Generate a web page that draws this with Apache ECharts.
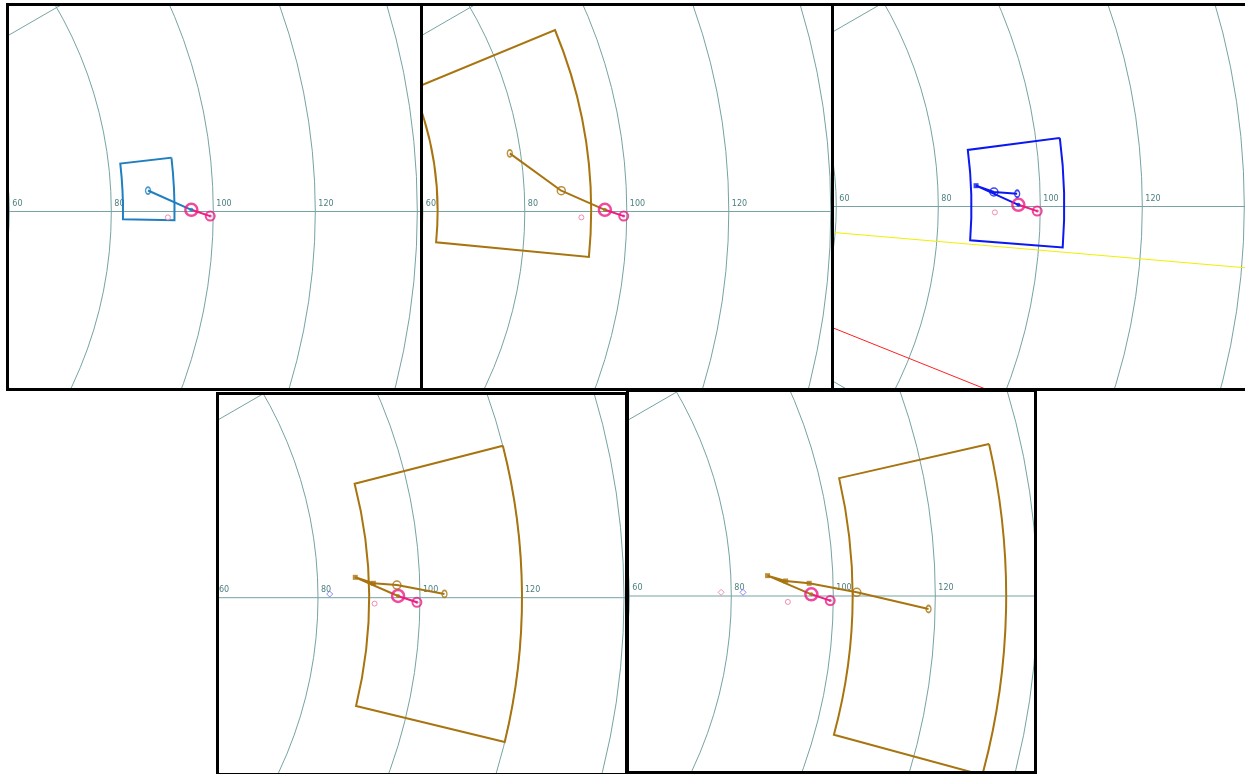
<!DOCTYPE html>
<html>
<head>
<meta charset="utf-8">
<script src="https://cdn.jsdelivr.net/npm/echarts@6/dist/echarts.min.js"></script>
<style>
  html, body { margin: 0; padding: 0; background: #fff; width: 1245px; height: 774px; overflow: hidden; position: relative; }
  .panel { position: absolute; box-sizing: border-box; border: 3px solid #000; background: #fff; overflow: hidden; }
  .panel > div { width: 100%; height: 100%; }
</style>
</head>
<body>
<div class="panel" style="left:6px;top:3px;width:417px;height:388px"><div id="c1"></div></div>
<div class="panel" style="left:420px;top:3px;width:414px;height:388px"><div id="c2"></div></div>
<div class="panel" style="left:831px;top:3px;width:420px;height:388px"><div id="c3"></div></div>
<div class="panel" style="left:216px;top:392px;width:412px;height:384px"><div id="c4"></div></div>
<div class="panel" style="left:626px;top:389px;width:411px;height:385px"><div id="c5"></div></div>
<script>
// All points are [radius, angle in degrees]
// Common reference points shown in every panel
const refStart = [95.7, 0.2];
const refEnd = [99.4, -0.52];
const refSmall = [91.1, -0.73];
const markBlue = [82.3, 0.5];
const markPink = [78.0, 0.53];

// Step tracks, one per panel
const track1 = [[95.7, 0.2], [87.3, 2.7]];
const track2 = [[95.7, 0.2], [87.25, 2.68], [77.9, 8.42]];
const track3 = [[95.7, 0.2], [87.5, 2.67], [90.95, 1.79], [95.5, 1.5]];
const track4 = [[95.7, 0.2], [87.4, 2.62], [90.9, 1.78], [95.5, 1.49], [104.8, 0.4]];
const track5 = [[95.7, 0.2], [87.2, 2.62], [90.7, 1.86], [95.3, 1.5], [104.6, 0.4], [118.7, -1.23]];

// Bounds around the last point of each track: [rMin, rMax, angleMin, angleMax]
const region1 = [82.3, 92.4, -1.05, 6.55];
const region2 = [62.9, 93.0, -5.5, 22.5];
const region3 = [86.5, 104.7, -4.4, 7.37];
const region4 = [90.0, 120.0, -13.64, 14.37];
const region5 = [103.75, 133.9, -15.2, 12.87];

// Rays drawn in the third panel (angle in degrees)
const rayYellow = -4.9;
const rayRed = -21.85;

// Axis settings
const radiusMax = 200;
const radiusStep = 20;
const angleStep = 30;

const GRID = '#77a3a3';
const LABEL = '#4d8080';
const PINK = '#ee1c84';
const PINK_LIGHT = '#f0709f';
const BLUE_MARK = '#6a6aff';
const PX_PER_UNIT = 5.1;

function sectorRenderer(color) {
  return function (params, api) {
    const cs = params.coordSys;
    const pa = api.coord([api.value(0), 0]);
    const pb = api.coord([api.value(1), 0]);
    const ra = Math.hypot(pa[0] - cs.cx, pa[1] - cs.cy);
    const rb = Math.hypot(pb[0] - cs.cx, pb[1] - cs.cy);
    return {
      type: 'sector',
      shape: {
        cx: cs.cx, cy: cs.cy, r0: ra, r: rb,
        startAngle: -api.value(3) * Math.PI / 180,
        endAngle: -api.value(2) * Math.PI / 180,
        clockwise: true
      },
      style: { fill: 'none', stroke: color, lineWidth: 2 }
    };
  };
}

function scatter(data, symbol, size, style, z) {
  return {
    type: 'scatter', coordinateSystem: 'polar', data: data,
    symbol: symbol, symbolSize: size, itemStyle: style, z: z, silent: true
  };
}

function buildPanel(id, center, track, region, color, extras) {
  const chart = echarts.init(document.getElementById(id), null, { renderer: 'canvas' });
  const n = track.length;
  const squares = track.slice(1, Math.max(1, n - 2));
  const ring = n >= 3 ? [track[n - 2]] : [];
  const last = [track[n - 1]];
  const series = [];

  (extras.rays || []).forEach(function (ray) {
    series.push({
      type: 'line', coordinateSystem: 'polar', showSymbol: false, silent: true, clip: false,
      data: [[0, ray.angle], [radiusMax, ray.angle]],
      lineStyle: { color: ray.color, width: 1 }, z: 2
    });
  });

  series.push({
    type: 'custom', coordinateSystem: 'polar', silent: true, clip: false,
    data: [region], renderItem: sectorRenderer(color), z: 3
  });
  series.push({
    type: 'line', coordinateSystem: 'polar', showSymbol: false, silent: true, clip: false,
    data: track, lineStyle: { color: color, width: 2 }, z: 4
  });
  series.push({
    type: 'line', coordinateSystem: 'polar', showSymbol: false, silent: true, clip: false,
    data: [refStart, refEnd], lineStyle: { color: PINK, width: 2 }, z: 5
  });
  series.push(scatter([refSmall], 'circle', 5, { color: '#fff', borderColor: PINK_LIGHT, borderWidth: 1 }, 5));
  if (extras.blue) series.push(scatter([markBlue], 'diamond', 6, { color: '#fff', borderColor: BLUE_MARK, borderWidth: 1 }, 5));
  if (extras.pink) series.push(scatter([markPink], 'diamond', 6, { color: '#fff', borderColor: PINK_LIGHT, borderWidth: 1 }, 5));
  series.push(scatter([refStart], 'circle', 12, { color: 'rgba(0,0,0,0)', borderColor: PINK, borderWidth: 2.5 }, 6));
  series.push(scatter([refEnd], 'circle', 9, { color: 'rgba(0,0,0,0)', borderColor: PINK, borderWidth: 2 }, 6));
  series.push(scatter([refEnd], 'circle', 3, { color: PINK }, 6));
  series.push(scatter([track[0]], 'circle', 4, { color: color }, 7));
  if (squares.length) series.push(scatter(squares, 'rect', 5, { color: color }, 7));
  if (ring.length) series.push(scatter(ring, 'circle', 8, { color: 'rgba(0,0,0,0)', borderColor: color, borderWidth: 1.5 }, 7));
  series.push(scatter(last, 'circle', [5, 7], { color: 'rgba(0,0,0,0)', borderColor: color, borderWidth: 1.5 }, 7));

  chart.setOption({
    animation: false,
    backgroundColor: '#fff',
    polar: { center: center, radius: radiusMax * PX_PER_UNIT },
    angleAxis: {
      type: 'value', min: 0, max: 360, interval: angleStep, startAngle: 0, clockwise: false,
      axisLine: { show: false }, axisTick: { show: false }, axisLabel: { show: false },
      splitLine: { show: true, lineStyle: { color: GRID, width: 1 } }
    },
    radiusAxis: {
      type: 'value', min: 0, max: radiusMax, interval: radiusStep,
      axisLine: { show: false }, axisTick: { show: false },
      axisLabel: {
        show: true, color: LABEL, fontSize: 8, fontFamily: 'DejaVu Sans',
        align: 'left', margin: 4, padding: [0, 0, 0, 3]
      },
      splitLine: { show: true, lineStyle: { color: GRID, width: 1 } }
    },
    series: series
  });
}

buildPanel('c1', [-305.7, 205.5], track1, region1, '#1f7fbf', {});
buildPanel('c2', [-306.2, 205.5], track2, region2, '#a8740f', {});
buildPanel('c3', [-303.7, 200.5], track3, region3, '#0b18f0', {
  rays: [{ angle: rayYellow, color: '#f0f000' }, { angle: rayRed, color: '#ff2020' }]
});
buildPanel('c4', [-309, 202.7], track4, region4, '#a8740f', { blue: true });
buildPanel('c5', [-305.7, 204], track5, region5, '#a8740f', { blue: true, pink: true });
</script>
</body>
</html>
